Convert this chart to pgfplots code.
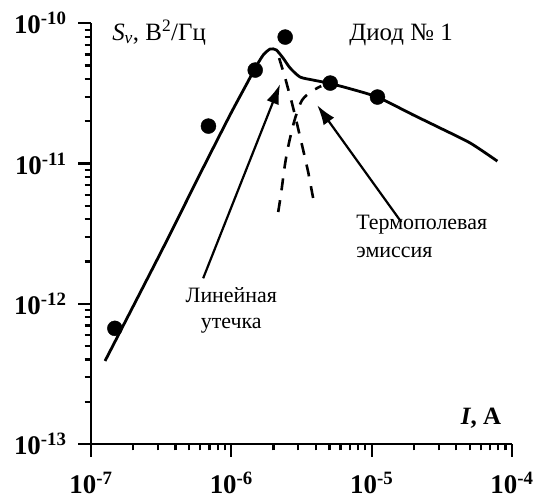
\documentclass[border=0pt]{standalone}
\usepackage{fontspec}
\setmainfont{Liberation Serif}
\usepackage{pgfplots}
\pgfplotsset{compat=1.18}
\usetikzlibrary{arrows.meta}

\newcommand\tl[1]{\hbox{\fontsize{27}{30}\selectfont\bfseries 10\textsuperscript{#1}}}

\begin{document}
\begin{tikzpicture}
\begin{loglogaxis}[
  scale only axis,
  width=421bp, height=420.7bp,
  xmin=1e-7, xmax=1e-4, ymin=1e-13, ymax=1e-10,
  axis lines*=left,
  axis line style={line width=2.6bp},
  tick align=outside,
  major tick length=13bp, minor tick length=6.5bp,
  tick style={black, line width=2.2bp},
  xtick={1e-7,1e-6,1e-5,1e-4},
  xticklabels={\tl{-7},\tl{-6},\tl{-5},\tl{-4}},
  ytick={1e-13,1e-12,1e-11,1e-10},
  yticklabels={\tl{-13},\tl{-12},\tl{-11},\tl{-10}},
  xticklabel style={yshift=-12bp},
  yticklabel style={xshift=-8bp},
  clip=false,
]
% measured points
\addplot[only marks, mark=*, mark size=7.5bp, black] coordinates {
  (1.48e-7,6.68e-13) (6.87e-7,1.85e-11) (1.48e-6,4.64e-11)
  (2.42e-6,7.98e-11) (5.07e-6,3.75e-11) (1.10e-5,2.98e-11)
};
% total fit
\addplot[black, line width=2.8bp, smooth, tension=0.4] coordinates {
  (1.259e-7,3.91e-13) (3.21e-7,2.42e-12) (5.98e-7,8.41e-12) (9.79e-7,2.22e-11)
  (1.297e-6,3.75e-11) (1.479e-6,4.80e-11) (1.687e-6,5.94e-11) (1.892e-6,6.56e-11)
  (2.089e-6,6.46e-11) (2.339e-6,5.65e-11) (2.624e-6,4.80e-11) (3.090e-6,4.14e-11)
  (3.828e-6,3.94e-11) (4.898e-6,3.75e-11) (6.699e-6,3.46e-11) (1.096e-5,2.98e-11)
  (1.982e-5,2.22e-11) (3.083e-5,1.79e-11) (5.047e-5,1.40e-11) (7.870e-5,1.04e-11)
};
% linear leakage component
\addplot[black, line width=2.6bp, dash pattern=on 12bp off 10bp] coordinates {
  (2.193e-6,5.65e-11) (2.421e-6,4.07e-11) (2.716e-6,2.66e-11) (2.943e-6,1.91e-11)
  (3.251e-6,1.25e-11) (3.532e-6,8.69e-12) (3.828e-6,5.68e-12)
};
% thermo-field emission component
\addplot[black, line width=2.6bp, dash pattern=on 12bp off 10bp, smooth] coordinates {
  (2.158e-6,4.51e-12) (2.265e-6,6.17e-12) (2.421e-6,1.01e-11) (2.582e-6,1.42e-11)
  (2.851e-6,2.11e-11) (3.199e-6,2.84e-11) (3.767e-6,3.29e-11) (4.375e-6,3.57e-11)
};
\draw[line width=2.2bp, -{Latex[length=20bp,width=13bp]}]
  (axis cs:6.30e-7,1.52e-12) -- (axis cs:2.228e-6,3.69e-11);
\draw[line width=2.2bp, -{Latex[length=20bp,width=13bp]}]
  (axis cs:1.626e-5,3.83e-12) -- (axis cs:4.09e-6,2.61e-11);
\node[anchor=base west, font=\fontsize{25}{30}\selectfont, inner sep=0pt]
  at (axis cs:1.413e-7,7.60e-11) {\textit{S}\textsubscript{\textit{v}}, В\textsuperscript{2}/Гц};
\node[anchor=base west, font=\fontsize{25}{30}\selectfont, inner sep=0pt]
  at (axis cs:6.92e-6,7.60e-11) {Диод №~1};
\node[anchor=base west, font=\fontsize{22}{28}\selectfont, inner sep=0pt, align=left]
  at (axis cs:7.76e-6,2.15e-12) {Термополевая\\эмиссия};
\node[anchor=base, font=\fontsize{22}{26}\selectfont, inner sep=0pt, align=center]
  at (axis cs:1.0e-6,6.7e-13) {Линейная\\утечка};
\node[anchor=base east, font=\fontsize{25}{30}\selectfont\bfseries, inner sep=0pt]
  at (axis cs:8.39e-5,1.387e-13) {\textit{I}, А};
\coordinate (ll) at (rel axis cs:0,0);
\coordinate (ur) at (rel axis cs:1,1);
\end{loglogaxis}
\pgfresetboundingbox
\path[use as bounding box] ([xshift=-91bp,yshift=-55bp]ll) rectangle ([xshift=25bp,yshift=23.3bp]ur);
\end{tikzpicture}
\end{document}
